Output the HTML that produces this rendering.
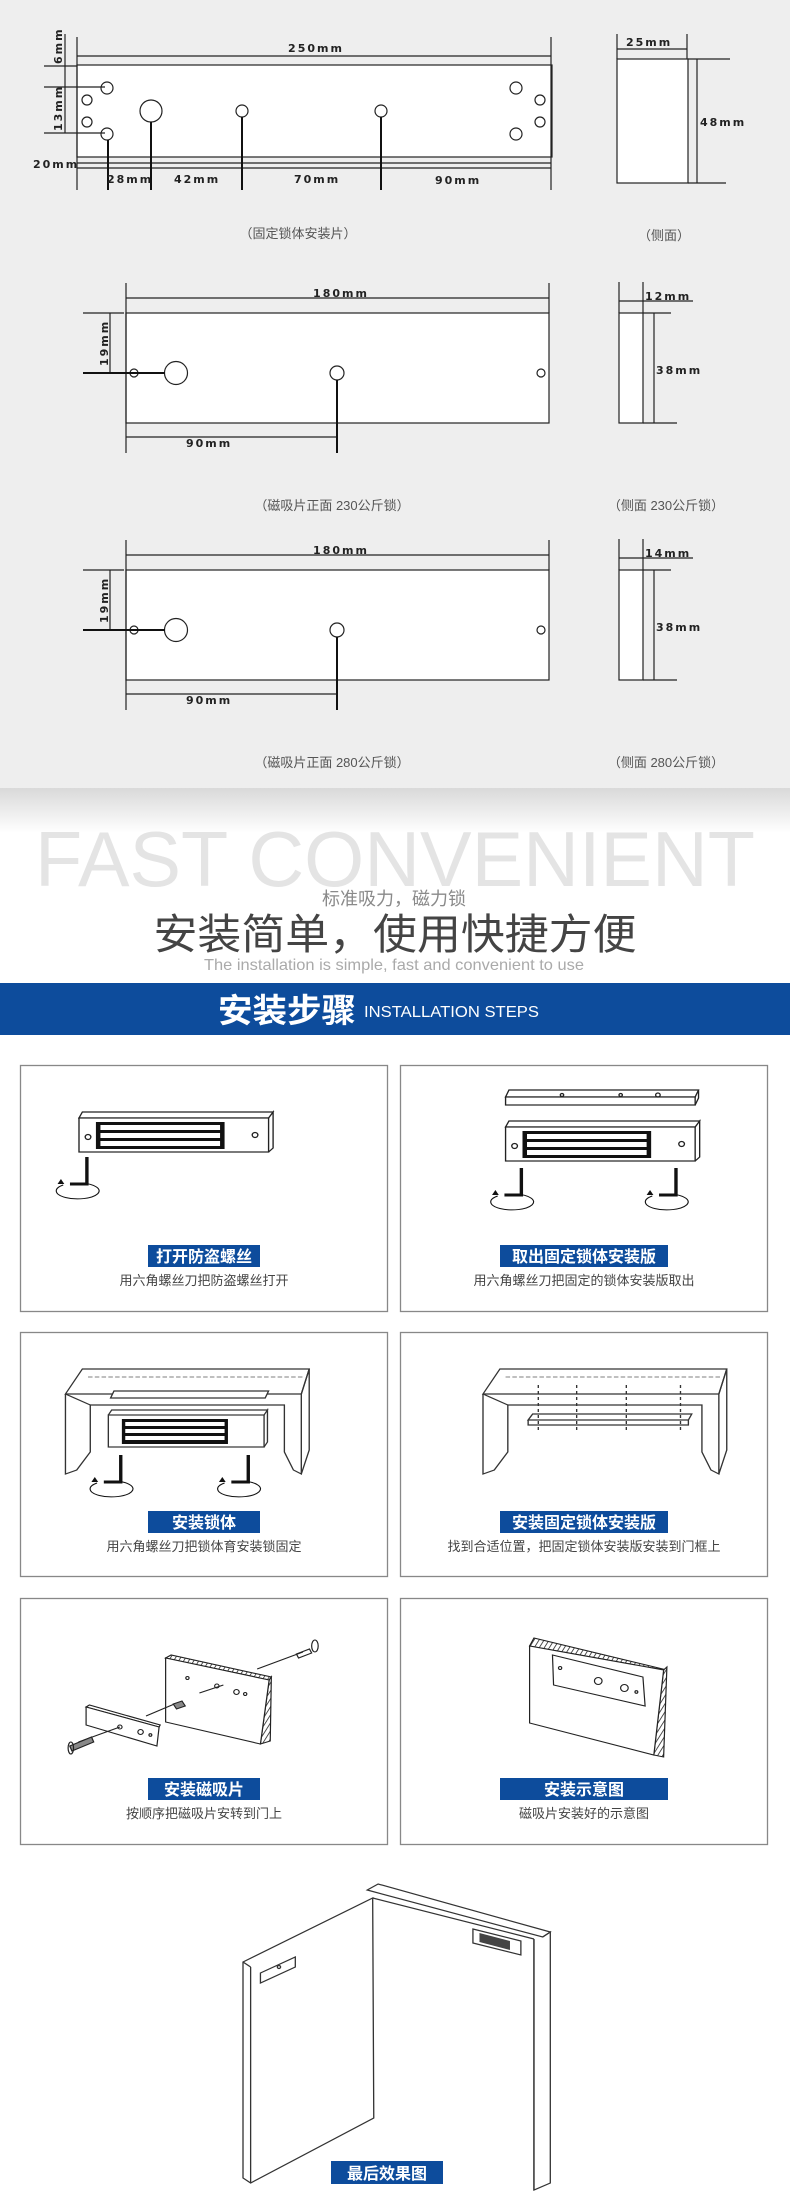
<!DOCTYPE html>
<html><head><meta charset="utf-8"><style>
html,body{margin:0;padding:0;background:#fff}
svg{display:block}
text{font-family:"Liberation Sans","Noto Sans CJK SC",sans-serif}
.d{font-family:"DejaVu Sans","Liberation Sans",sans-serif;font-weight:bold;font-size:11px;fill:#222;letter-spacing:2px}
.cap{font-size:13px;fill:#555}
.lbl{font-size:16px;fill:#fff;font-weight:bold}
.sub{font-size:13px;fill:#444}
</style></head><body>
<svg width="790" height="2205" viewBox="0 0 790 2205" xmlns="http://www.w3.org/2000/svg">
<defs>
<linearGradient id="sh" x1="0" y1="0" x2="0" y2="1"><stop offset="0" stop-color="#d9d9d9"/><stop offset="1" stop-color="#fff"/></linearGradient>
<pattern id="hat" width="4" height="4" patternUnits="userSpaceOnUse" patternTransform="rotate(30)"><rect width="4" height="4" fill="#fff"/><line x1="0" y1="0" x2="0" y2="4" stroke="#333" stroke-width="1.6"/></pattern>
</defs>
<rect x="0" y="0" width="790" height="790" fill="#eeeeee"/>
<rect x="0" y="788" width="790" height="45" fill="url(#sh)"/>

<!-- ===== Plate 1 ===== -->
<g fill="none" stroke="#222" stroke-width="1.2">
<rect x="77" y="65" width="475" height="92" fill="#fff"/>
<line x1="77" y1="37" x2="77" y2="190"/><line x1="551" y1="37" x2="551" y2="190"/>
<line x1="77" y1="56" x2="551" y2="56"/>
<line x1="65" y1="34" x2="65" y2="133"/>
<line x1="44" y1="66" x2="77" y2="66"/>
<line x1="44" y1="87" x2="105" y2="87"/><line x1="44" y1="133" x2="105" y2="133"/>
<line x1="77" y1="163" x2="551" y2="163"/><line x1="77" y1="168" x2="551" y2="168"/>
<circle cx="107" cy="88" r="6"/><circle cx="87" cy="100" r="5"/><circle cx="87" cy="122" r="5"/><circle cx="107" cy="134" r="6"/>
<circle cx="151" cy="111" r="11"/><circle cx="242" cy="111" r="6"/><circle cx="381" cy="111" r="6"/>
<circle cx="516" cy="88" r="6"/><circle cx="540" cy="100" r="5"/><circle cx="540" cy="122" r="5"/><circle cx="516" cy="134" r="6"/>
</g>
<g stroke="#111" stroke-width="2">
<line x1="108" y1="140" x2="108" y2="190"/><line x1="151" y1="122" x2="151" y2="190"/><line x1="242" y1="117" x2="242" y2="190"/><line x1="381" y1="117" x2="381" y2="190"/>
</g>
<text class="d" x="316" y="52" text-anchor="middle">250mm</text>
<text class="d" transform="translate(62,64) rotate(-90)">6mm</text>
<text class="d" transform="translate(62,131) rotate(-90)">13mm</text>
<text class="d" x="33" y="168">20mm</text>
<text class="d" x="107" y="183">28mm</text><text class="d" x="174" y="183">42mm</text><text class="d" x="294" y="183">70mm</text><text class="d" x="435" y="184">90mm</text>
<g fill="none" stroke="#222" stroke-width="1.2">
<rect x="617" y="59" width="71" height="124" fill="#fff"/>
<line x1="617" y1="34" x2="617" y2="59"/><line x1="687" y1="34" x2="687" y2="59"/><line x1="617" y1="49" x2="687" y2="49"/>
<line x1="697" y1="59" x2="697" y2="183"/><line x1="688" y1="59" x2="730" y2="59"/><line x1="688" y1="183" x2="726" y2="183"/>
</g>
<text class="d" x="626" y="46" font-size="12">25mm</text>
<text class="d" x="700" y="126" font-size="12">48mm</text>
<text class="cap" x="298" y="238" text-anchor="middle" font-size="11">（固定锁体安装片）</text>
<text class="cap" x="664" y="240" text-anchor="middle" font-size="11">（侧面）</text>

<!-- ===== Plate 2 & 3 ===== -->
<g id="p2">
<g fill="none" stroke="#222" stroke-width="1.2">
<rect x="126" y="313" width="423" height="110" fill="#fff"/>
<line x1="126" y1="283" x2="126" y2="453"/><line x1="549" y1="283" x2="549" y2="313"/>
<line x1="126" y1="298" x2="549" y2="298"/>
<line x1="83" y1="313" x2="124" y2="313"/><line x1="110" y1="313" x2="110" y2="373"/>
<circle cx="134" cy="373" r="4"/><circle cx="176" cy="373" r="11.5"/><circle cx="337" cy="373" r="7"/><circle cx="541" cy="373" r="4"/>
<line x1="126" y1="437" x2="337" y2="437"/>
<rect x="619" y="313" width="24" height="110" fill="#fff"/>
<line x1="619" y1="282" x2="619" y2="313"/><line x1="643" y1="282" x2="643" y2="313"/><line x1="619" y1="301" x2="693" y2="301"/>
<line x1="654" y1="313" x2="654" y2="423"/><line x1="643" y1="313" x2="671" y2="313"/><line x1="643" y1="423" x2="677" y2="423"/>
</g>
<g stroke="#111" stroke-width="2"><line x1="83" y1="373" x2="165" y2="373"/><line x1="337" y1="380" x2="337" y2="453"/></g>
<text class="d" x="341" y="297" text-anchor="middle" font-size="12">180mm</text>
<text class="d" transform="translate(108,366) rotate(-90)" font-size="12">19mm</text>
<text class="d" x="186" y="447" font-size="12">90mm</text>
<text class="d" x="656" y="374" font-size="11">38mm</text>
</g>
<text class="d" x="645" y="300" font-size="11">12mm</text>
<text class="cap" x="332" y="510" text-anchor="middle">（磁吸片正面 230公斤锁）</text>
<text class="cap" x="666" y="510" text-anchor="middle">（侧面 230公斤锁）</text>
<use href="#p2" y="257"/>
<text class="d" x="645" y="557" font-size="11">14mm</text>
<text class="cap" x="332" y="767" text-anchor="middle">（磁吸片正面 280公斤锁）</text>
<text class="cap" x="666" y="767" text-anchor="middle">（侧面 280公斤锁）</text>

<!-- ===== Titles ===== -->
<text x="395" y="886" text-anchor="middle" font-size="78" fill="#e4e4e4" textLength="720" lengthAdjust="spacingAndGlyphs" style="font-weight:100">FAST CONVENIENT</text>
<text x="394" y="905" text-anchor="middle" font-size="18" fill="#8a8a8a">标准吸力，磁力锁</text>
<text x="395" y="949" text-anchor="middle" font-size="42" fill="#444" textLength="483" lengthAdjust="spacingAndGlyphs">安装简单，使用快捷方便</text>
<text x="394" y="970" text-anchor="middle" font-size="16" fill="#aaa" textLength="380" lengthAdjust="spacingAndGlyphs">The installation is simple, fast and convenient to use</text>
<rect x="0" y="983" width="790" height="52" fill="#0d4c9c"/>
<text x="218" y="1022" font-size="33" fill="#fff" font-weight="bold" textLength="138" lengthAdjust="spacingAndGlyphs">安装步骤</text>
<text x="364" y="1017" font-size="16" fill="#fff" textLength="175" lengthAdjust="spacingAndGlyphs">INSTALLATION STEPS</text>

<!-- ===== Boxes ===== -->
<g fill="#fff" stroke="#888" stroke-width="1.3">
<rect x="20.5" y="1065.5" width="367" height="246"/><rect x="400.5" y="1065.5" width="367" height="246"/>
<rect x="20.5" y="1332.5" width="367" height="244"/><rect x="400.5" y="1332.5" width="367" height="244"/>
<rect x="20.5" y="1598.5" width="367" height="246"/><rect x="400.5" y="1598.5" width="367" height="246"/>
</g>
<g fill="#0d4c9c">
<rect x="148" y="1245" width="112" height="22"/><rect x="500" y="1245" width="168" height="22"/>
<rect x="148" y="1511" width="112" height="22"/><rect x="500" y="1511" width="168" height="22"/>
<rect x="148" y="1778" width="112" height="22"/><rect x="500" y="1778" width="168" height="22"/>
<rect x="331" y="2161" width="112" height="23"/>
</g>
<text class="lbl" x="204" y="1262" text-anchor="middle">打开防盗螺丝</text>
<text class="lbl" x="584" y="1262" text-anchor="middle">取出固定锁体安装版</text>
<text class="sub" x="204" y="1285" text-anchor="middle">用六角螺丝刀把防盗螺丝打开</text>
<text class="sub" x="584" y="1285" text-anchor="middle">用六角螺丝刀把固定的锁体安装版取出</text>
<text class="lbl" x="204" y="1528" text-anchor="middle">安装锁体</text>
<text class="lbl" x="584" y="1528" text-anchor="middle">安装固定锁体安装版</text>
<text class="sub" x="204" y="1551" text-anchor="middle">用六角螺丝刀把锁体育安装锁固定</text>
<text class="sub" x="584" y="1551" text-anchor="middle">找到合适位置，把固定锁体安装版安装到门框上</text>
<text class="lbl" x="204" y="1795" text-anchor="middle">安装磁吸片</text>
<text class="lbl" x="584" y="1795" text-anchor="middle">安装示意图</text>
<text class="sub" x="204" y="1818" text-anchor="middle">按顺序把磁吸片安转到门上</text>
<text class="sub" x="584" y="1818" text-anchor="middle">磁吸片安装好的示意图</text>
<text class="lbl" x="387" y="2179" text-anchor="middle">最后效果图</text>

<!-- ===== Drawings (rows 1-2) ===== -->
<g transform="scale(1.1285 1)">
<g id="lock" fill="none" stroke="#222" stroke-width="1.2">
<path d="M70 1118 L73 1112 L242 1112 L238 1118 Z M238 1118 L242 1112 L242 1148 L238 1152"/>
<rect x="70" y="1118" width="168" height="34" fill="#fff"/>
<rect x="85" y="1122" width="114" height="27" fill="#111" stroke="none"/>
<rect x="89" y="1125" width="106" height="5" fill="#fff" stroke="none"/><rect x="89" y="1133" width="106" height="5" fill="#fff" stroke="none"/><rect x="89" y="1141" width="106" height="5" fill="#fff" stroke="none"/>
<circle cx="78" cy="1137" r="2.5"/><circle cx="226" cy="1135" r="2.5"/>
</g>
<g id="key" fill="none" stroke="#111">
<path d="M77 1157 V1184 H62" stroke-width="3"/>
<path d="M56 1185 A19 8 0 1 0 72 1183" stroke-width="1"/>
<path d="M51 1184 l3 -5 l3 5 z" fill="#111" stroke="none"/>
</g>
<g fill="none" stroke="#222" stroke-width="1.2">
<path d="M448 1097 L451 1090 L619 1090 L616 1097 Z M616 1097 L619 1090 L619 1098 L616 1105"/>
<rect x="448" y="1097" width="168" height="8" fill="#fff"/>
<circle cx="498" cy="1095" r="1.5"/><circle cx="550" cy="1095" r="1.5"/><circle cx="583" cy="1095" r="2"/>
</g>
<use href="#lock" x="378" y="9"/>
<use href="#key" x="385" y="11"/><use href="#key" x="522" y="11"/>
<g id="frame" fill="none" stroke="#333" stroke-width="1.2">
<path d="M58 1394 L73 1369 L274 1369 L267 1394 Z" fill="#fff"/>
<path d="M58 1394 V1474 L68 1470 L80 1452 V1405 L252 1405 V1452 L260 1470 L267 1474 V1394"/>
<path d="M267 1394 L274 1369 V1450 L267 1474"/>
<line x1="80" y1="1405" x2="58" y2="1394"/>
<line x1="78" y1="1377" x2="270" y2="1377" stroke-dasharray="4 2" stroke="#999"/>
</g>
<g fill="none" stroke="#333" stroke-width="1.2">
<path d="M98 1398 L101 1391 L238 1391 L235 1398 Z" fill="#fff"/>
<rect x="96" y="1415" width="138" height="32" fill="#fff"/>
<path d="M96 1415 L99 1410 L237 1410 L234 1415 M234 1415 L237 1410 V1442 L234 1447"/>
<rect x="108" y="1419" width="94" height="25" fill="#111" stroke="none"/>
<rect x="111" y="1422" width="88" height="4" fill="#fff" stroke="none"/><rect x="111" y="1429" width="88" height="4" fill="#fff" stroke="none"/><rect x="111" y="1436" width="88" height="4" fill="#fff" stroke="none"/>
</g>
<use href="#key" x="30" y="298"/><use href="#key" x="143" y="298"/>
<use href="#frame" x="370"/>
<g fill="none" stroke="#333" stroke-width="1.2">
<path d="M468 1420 L472 1414 L613 1414 L610 1420 Z" fill="#fff"/>
<path d="M468 1420 V1425 H610 V1420"/>
<g stroke-dasharray="3 3"><line x1="477" y1="1385" x2="477" y2="1430"/><line x1="511" y1="1385" x2="511" y2="1430"/><line x1="555" y1="1385" x2="555" y2="1430"/><line x1="603" y1="1385" x2="603" y2="1430"/></g>
</g>
</g>

<!-- ===== Drawings (row 3 + door) ===== -->
<g transform="scale(1.0897 1)">
<g fill="none" stroke="#222" stroke-width="1.1">
<path d="M152 1658 L157 1655 L249 1677 L247 1680 Z" fill="url(#hat)"/>
<path d="M247 1680 L249 1677 L248 1741 L239 1744 Z" fill="url(#hat)"/>
<path d="M152 1658 L247 1680 L239 1744 L152 1722 Z" fill="#fff"/>
<circle cx="172" cy="1678" r="1.5"/><circle cx="199" cy="1686" r="2"/><circle cx="217" cy="1692" r="2.5"/><circle cx="225" cy="1694" r="1.5"/>
<line x1="236" y1="1669" x2="278" y2="1652"/><path d="M272 1654 l12 -5 l2 4 l-12 5 z"/><ellipse cx="289" cy="1646" rx="3" ry="6"/>
<line x1="183" y1="1693" x2="205" y2="1685"/>
<line x1="134" y1="1716" x2="160" y2="1704"/><path d="M159 1704 l8 -3 l3 5 l-8 3 z" fill="#888"/>
<path d="M79 1707 L82 1705 L147 1725 L146 1727 Z"/>
<path d="M79 1707 L146 1727 L144 1746 L79 1725 Z" fill="#fff"/>
<circle cx="110" cy="1727" r="2"/><circle cx="129" cy="1732" r="2.5"/><circle cx="138" cy="1735" r="1.3"/>
<line x1="72" y1="1742" x2="110" y2="1727"/><path d="M64 1746 l20 -9 l2 5 l-20 9 z" fill="#888"/><ellipse cx="65" cy="1748" rx="2.5" ry="6"/>
</g>
<g fill="none" stroke="#222" stroke-width="1.1">
<path d="M486 1646 L490 1638 L612 1670 L609 1670 Z" fill="url(#hat)"/>
<path d="M609 1670 L612 1667 L609 1757 L600 1755 Z" fill="url(#hat)"/>
<path d="M486 1646 L609 1670 L600 1755 L486 1723 Z" fill="#fff"/>
<path d="M507 1655 L590 1677 L592 1706 L508 1685 Z" fill="#fff"/>
<circle cx="514" cy="1668" r="1.5"/><circle cx="549" cy="1681" r="3.5"/><circle cx="573" cy="1688" r="3.5"/><circle cx="584" cy="1692" r="1.3"/>
</g>
<g fill="none" stroke="#333" stroke-width="1.2">
<path d="M337 1890 L347 1884 L505 1932 L498 1937 Z"/>
<path d="M498 1937 L505 1932 V2183 L490 2190 V1939"/>
<line x1="490" y1="1939" x2="490" y2="2190"/>
<path d="M342 1898 L490 1939"/>
<path d="M223 1962 L342 1898 L343 2118 L230 2183 L223 2178 Z" fill="#fff"/>
<line x1="230" y1="1967" x2="230" y2="2183"/>
<line x1="223" y1="1962" x2="230" y2="1967"/>
<path d="M239 1973 L271 1957 V1967 L239 1983 Z"/>
<circle cx="256" cy="1967" r="1.5"/>
<path d="M434 1929 L478 1941 V1955 L434 1943 Z" fill="#fff"/>
<path d="M440 1933 L468 1941 V1950 L440 1942 Z" fill="#444" stroke="none"/>
</g>
</g>
</svg>
</body></html>
